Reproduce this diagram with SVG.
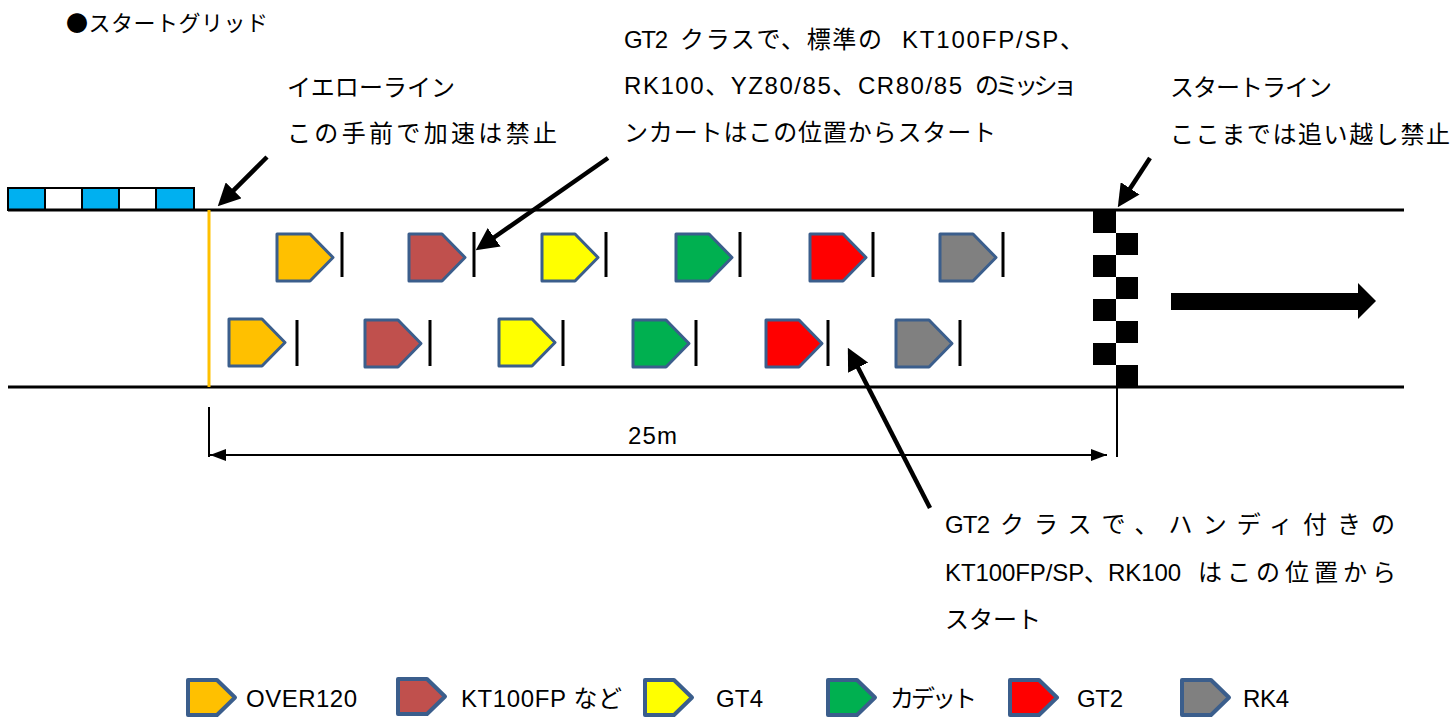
<svg xmlns="http://www.w3.org/2000/svg" width="1454" height="717" viewBox="0 0 1454 717">
<style>
.t{font-family:"Liberation Sans","Noto Sans CJK JP",sans-serif;font-size:24px;fill:#000}
.j{font-family:"Noto Sans CJK JP",sans-serif;font-size:22px;fill:#000}
.track{stroke:#000;stroke-width:3;fill:none}
.bar{stroke:#000;stroke-width:3}
.kart{stroke:#3B5E8C;stroke-width:3;stroke-linejoin:round}
.lg{stroke:#3B5E8C;stroke-width:4;stroke-linejoin:round}
.arrow{stroke:#000;stroke-width:4.5;fill:none;marker-end:url(#ah)}
.dim{stroke:#000;stroke-width:2;fill:none}
.c1{fill:#FFC000}.c2{fill:#C0504D}.c3{fill:#FFFF00}.c4{fill:#00B050}.c5{fill:#FF0000}.c6{fill:#808080}
</style>
<defs>
<marker id="ah" viewBox="0 0 10 10" refX="4" refY="5" markerWidth="5" markerHeight="5" orient="auto" markerUnits="strokeWidth">
<path d="M0,0 L10,5 L0,10 z" fill="#000"/>
</marker>
<marker id="dh" viewBox="0 0 16 12" refX="16" refY="6" markerWidth="16" markerHeight="12" orient="auto-start-reverse" markerUnits="userSpaceOnUse">
<path d="M0,0 L16,6 L0,12 z" fill="#000"/>
</marker>
<path id="k" d="M0,0 H33 L56,23.5 L33,47 H0 Z"/>
<path id="kl" d="M0,0 H29 L47,17.5 L29,35 H0 Z"/>
</defs>

<rect width="1454" height="717" fill="#fff"/>

<g id="title"><text class="j" x="66" y="31" textLength="202">●スタートグリッド</text></g>

<g id="grid-strip">
<rect x="8" y="188" width="37" height="22" fill="#00B0F0" stroke="#000" stroke-width="2"/>
<rect x="45" y="188" width="37" height="22" fill="#fff" stroke="#000" stroke-width="2"/>
<rect x="82" y="188" width="37" height="22" fill="#00B0F0" stroke="#000" stroke-width="2"/>
<rect x="119" y="188" width="37" height="22" fill="#fff" stroke="#000" stroke-width="2"/>
<rect x="156" y="188" width="38" height="22" fill="#00B0F0" stroke="#000" stroke-width="2"/>
</g>

<g id="track">
<line class="track" x1="8" y1="210" x2="1404" y2="210"/>
<line class="track" x1="8" y1="387" x2="1404" y2="387"/>
</g>

<g id="yellow-line"><line x1="209" y1="210" x2="209" y2="387" stroke="#FFC000" stroke-width="3"/></g>

<g id="start-line" fill="#000">
<rect x="1093" y="211" width="23" height="22"/>
<rect x="1116" y="233" width="22" height="22"/>
<rect x="1093" y="255" width="23" height="22"/>
<rect x="1116" y="277" width="22" height="22"/>
<rect x="1093" y="299" width="23" height="22"/>
<rect x="1116" y="321" width="22" height="22"/>
<rect x="1093" y="343" width="23" height="22"/>
<rect x="1116" y="365" width="22" height="22"/>
</g>

<g id="karts-top">
<use href="#k" class="kart c1" x="277" y="234"/><line class="bar" x1="342" y1="232" x2="342" y2="277"/>
<use href="#k" class="kart c2" x="409" y="234"/><line class="bar" x1="474" y1="232" x2="474" y2="277"/>
<use href="#k" class="kart c3" x="542" y="234"/><line class="bar" x1="606" y1="232" x2="606" y2="277"/>
<use href="#k" class="kart c4" x="676" y="234"/><line class="bar" x1="740" y1="232" x2="740" y2="277"/>
<use href="#k" class="kart c5" x="810" y="234"/><line class="bar" x1="873" y1="232" x2="873" y2="277"/>
<use href="#k" class="kart c6" x="940" y="234"/><line class="bar" x1="1003" y1="232" x2="1003" y2="277"/>
</g>

<g id="karts-bottom">
<use href="#k" class="kart c1" x="229" y="319"/><line class="bar" x1="297" y1="320" x2="297" y2="366"/>
<use href="#k" class="kart c2" x="365" y="320"/><line class="bar" x1="430" y1="320" x2="430" y2="366"/>
<use href="#k" class="kart c3" x="499" y="319"/><line class="bar" x1="563" y1="320" x2="563" y2="366"/>
<use href="#k" class="kart c4" x="633" y="320"/><line class="bar" x1="696" y1="320" x2="696" y2="366"/>
<use href="#k" class="kart c5" x="766" y="320"/><line class="bar" x1="828" y1="320" x2="828" y2="366"/>
<use href="#k" class="kart c6" x="896" y="320"/><line class="bar" x1="960" y1="320" x2="960" y2="366"/>
</g>

<g id="go-arrow"><polygon points="1171,293 1358,293 1358,283 1376,301 1358,319 1358,310 1171,310" fill="#000"/></g>

<g id="dimension">
<line class="dim" x1="209" y1="407" x2="209" y2="457"/>
<line class="dim" x1="1117" y1="388" x2="1117" y2="457"/>
<line class="dim" x1="210" y1="455" x2="1107" y2="455" marker-start="url(#dh)" marker-end="url(#dh)"/>
<text class="t" x="628" y="444" textLength="49">25m</text>
</g>

<g id="connectors">
<line class="arrow" x1="267" y1="157" x2="227.3" y2="196.7"/>
<line class="arrow" x1="608" y1="158" x2="486.8" y2="242.5"/>
<line class="arrow" x1="1150" y1="158" x2="1125.2" y2="195.9"/>
<line class="arrow" x1="930" y1="508" x2="854" y2="359.7"/>
</g>

<g id="label-yellow">
<text class="t" x="287" y="96" textLength="168">イエローライン</text>
<text class="t" x="287" y="142" textLength="270">この手前で加速は禁止</text>
</g>

<g id="label-standard">
<text class="t" x="624" y="48" textLength="44">GT2</text>
<text class="t" x="680" y="48" textLength="202">クラスで、標準の</text>
<text class="t" x="902" y="48" textLength="182">KT100FP/SP、</text>
<text class="t" x="624" y="94" textLength="338">RK100、YZ80/85、CR80/85</text>
<text class="t" x="975" y="94" textLength="102">のミッショ</text>
<text class="t" x="624" y="141" textLength="372">ンカートはこの位置からスタート</text>
</g>

<g id="label-startline">
<text class="t" x="1170" y="96" textLength="162">スタートライン</text>
<text class="t" x="1170" y="143" textLength="280">ここまでは追い越し禁止</text>
</g>

<g id="label-handicap">
<text class="t" x="945" y="533" textLength="45">GT2</text>
<text class="t" x="1000" y="533" textLength="395">クラスで、ハンディ付きの</text>
<text class="t" x="945" y="581" textLength="236">KT100FP/SP、RK100</text>
<text class="t" x="1198" y="581" textLength="198">はこの位置から</text>
<text class="t" x="945" y="628" textLength="96">スタート</text>
</g>

<g id="legend">
<g id="lg-over120"><use href="#kl" class="lg c1" x="188" y="680"/><text class="t" x="246" y="707" textLength="111">OVER120</text></g>
<g id="lg-kt100"><use href="#kl" class="lg c2" x="398" y="679"/><text class="t" x="461" y="707" textLength="161">KT100FP など</text></g>
<g id="lg-gt4"><use href="#kl" class="lg c3" x="645" y="680"/><text class="t" x="716" y="707" textLength="47">GT4</text></g>
<g id="lg-cadet"><use href="#kl" class="lg c4" x="828" y="680"/><text class="t" x="890" y="707" textLength="87">カデット</text></g>
<g id="lg-gt2"><use href="#kl" class="lg c5" x="1010" y="680"/><text class="t" x="1077" y="707" textLength="46">GT2</text></g>
<g id="lg-rk4"><use href="#kl" class="lg c6" x="1182" y="680"/><text class="t" x="1243" y="707" textLength="46">RK4</text></g>
</g>
</svg>
